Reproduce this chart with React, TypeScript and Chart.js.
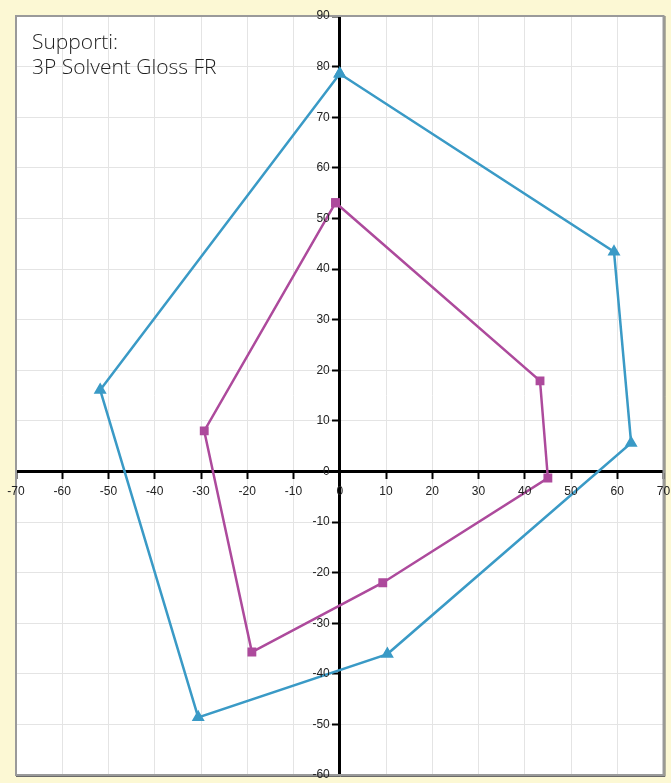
import React, { useEffect, useRef } from "react";
import { Chart, registerables } from "chart.js";

Chart.register(...registerables);

const blueX = [0, 59.3, 63, 10.3, -30.6, -51.8, 0];
const blueY = [78.6, 43.4, 5.6, -36.1, -48.6, 16.1, 78.6];
const magentaX = [-0.9, 43.3, 45, 9.3, -19, -29.3, -0.9];
const magentaY = [53.1, 17.9, -1.3, -22, -35.7, 8, 53.1];

const xMin = -70;
const xMax = 70;
const yMin = -60;
const yMax = 90;
const tickStep = 10;

const titleLines = ["Supporti:", "3P Solvent Gloss FR"];

const W = 671;
const H = 783;

const TICK_FONT = "12px 'Liberation Sans', Arial, sans-serif";
const TICK_COLOR = "#222222";

const framePlugin = {
  id: "frame",
  beforeDraw(chart: any) {
    const { ctx, chartArea } = chart;
    ctx.save();
    ctx.fillStyle = "#fcf8d4";
    ctx.fillRect(0, 0, chart.width, chart.height);
    ctx.fillStyle = "#ffffff";
    ctx.fillRect(chartArea.left, chartArea.top, chartArea.right - chartArea.left, chartArea.bottom - chartArea.top);
    ctx.restore();
  },
  afterDraw(chart: any) {
    const { ctx, chartArea } = chart;
    ctx.save();
    ctx.strokeStyle = "#9a9a9a";
    ctx.lineWidth = 2;
    ctx.strokeRect(chartArea.left, chartArea.top, chartArea.right - chartArea.left, chartArea.bottom - chartArea.top);
    ctx.strokeStyle = "#6a6a6a";
    ctx.lineWidth = 1;
    ctx.beginPath();
    ctx.moveTo(chartArea.right + 1.5, chartArea.top);
    ctx.lineTo(chartArea.right + 1.5, chartArea.bottom + 1.5);
    ctx.lineTo(chartArea.left, chartArea.bottom + 1.5);
    ctx.stroke();
    // tick labels beside the centred axes
    const xs = chart.scales.x;
    const ys = chart.scales.y;
    const axisX = xs.getPixelForValue(0);
    const axisY = ys.getPixelForValue(0);
    ctx.font = TICK_FONT;
    ctx.fillStyle = TICK_COLOR;
    ctx.textAlign = "right";
    ctx.textBaseline = "middle";
    ys.ticks.forEach((t: any) => {
      ctx.fillText(String(t.value), axisX - 10, ys.getPixelForValue(t.value));
    });
    ctx.textAlign = "center";
    xs.ticks.forEach((t: any) => {
      ctx.fillText(String(t.value), xs.getPixelForValue(t.value), axisY + 20);
    });
    ctx.restore();
  },
};

const toPoints = (xs: number[], ys: number[]) => xs.map((x, i) => ({ x, y: ys[i] }));

export default function App() {
  const canvasRef = useRef<HTMLCanvasElement | null>(null);

  useEffect(() => {
    if (!canvasRef.current) return;
    const chart = new Chart(canvasRef.current, {
      type: "scatter",
      data: {
        datasets: [
          {
            label: "A",
            data: toPoints(blueX, blueY),
            showLine: true,
            borderColor: "#3a9ac6",
            backgroundColor: "#3a9ac6",
            borderWidth: 2.5,
            pointStyle: "triangle",
            pointRadius: 5,
            pointHoverRadius: 5,
          },
          {
            label: "B",
            data: toPoints(magentaX, magentaY),
            showLine: true,
            borderColor: "#ad4a9c",
            backgroundColor: "#ad4a9c",
            borderWidth: 2.5,
            pointStyle: "rect",
            pointRadius: 4.5,
            pointHoverRadius: 4.5,
          },
        ],
      },
      options: {
        responsive: false,
        animation: false,
        layout: { padding: { left: 16, top: 16, right: 2, bottom: 8 } },
        plugins: { legend: { display: false }, tooltip: { enabled: false }, title: { display: false } },
        scales: {
          x: {
            type: "linear",
            min: xMin,
            max: xMax,
            position: { y: 0 } as any,
            ticks: { stepSize: tickStep, display: false, autoSkip: false },
            grid: { color: "#e4e4e4", lineWidth: 1, tickColor: "#000000", tickLength: 6, tickWidth: 2 },
            border: { color: "#000000", width: 3 },
          },
          y: {
            type: "linear",
            min: yMin,
            max: yMax,
            position: { x: 0 } as any,
            ticks: { stepSize: tickStep, display: false, autoSkip: false },
            grid: { color: "#e4e4e4", lineWidth: 1, tickColor: "#000000", tickLength: 6, tickWidth: 2 },
            border: { color: "#000000", width: 3 },
          },
        },
      },
      plugins: [framePlugin],
    });
    return () => chart.destroy();
  }, []);

  return (
    <div style={{ position: "fixed", left: 0, top: 0, width: W, height: H }}>
      <canvas ref={canvasRef} width={W} height={H} style={{ display: "block" }} />
      <div
        style={{
          position: "absolute",
          left: 32,
          top: 29,
          fontFamily: "'Open Sans', 'Liberation Sans', sans-serif",
          fontWeight: 300,
          fontSize: 21,
          lineHeight: "25px",
          color: "#1e1e1e",
          whiteSpace: "pre",
        }}
      >
        {titleLines.map((t) => (
          <div key={t}>{t}</div>
        ))}
      </div>
    </div>
  );
}
